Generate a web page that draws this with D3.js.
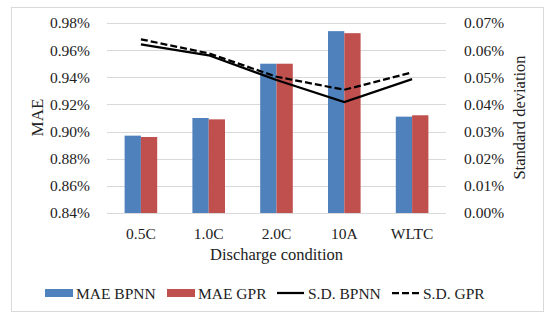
<!DOCTYPE html>
<html>
<head>
<meta charset="utf-8">
<script src="https://cdn.jsdelivr.net/npm/d3@7"></script>
<style>
  body { margin: 0; background: #fff; }
  svg { display: block; font-family: "Liberation Serif", "Times New Roman", serif; }
</style>
</head>
<body>
<script>
// chart data
let categories = ["0.5C", "1.0C", "2.0C", "10A", "WLTC"]
let maeBPNN = [0.897, 0.910, 0.950, 0.974, 0.911]
let maeGPR = [0.896, 0.909, 0.950, 0.9725, 0.912]
let sdBPNN = [0.0621, 0.0581, 0.0490, 0.0409, 0.0493]
let sdGPR = [0.0640, 0.0588, 0.0502, 0.0454, 0.0518]
let leftTicks = [0.84, 0.86, 0.88, 0.90, 0.92, 0.94, 0.96, 0.98]
let rightTicks = [0, 0.01, 0.02, 0.03, 0.04, 0.05, 0.06, 0.07]

let W = 550, H = 322
let m = {left: 107, right: 104, top: 23, bottom: 110}
let serif = '"Liberation Serif", "Times New Roman", serif'

let svg = d3.select('body')
    .append('svg')
    .attr('width', W)
    .attr('height', H)

// outer frame
svg.append('rect')
    .attr('x', 11.5)
    .attr('y', 7.5)
    .attr('width', 532)
    .attr('height', 304)
    .style('fill', 'white')
    .style('stroke', '#d9d9d9')

let x = d3.scaleBand()
    .domain(categories)
    .range([m.left, W - m.right])
let x1 = d3.scaleBand()
    .domain([0, 1])
    .range([0, 32.6])
let yL = d3.scaleLinear()
    .domain([0.84, 0.98])
    .range([H - m.bottom + 1, m.top])
let yR = d3.scaleLinear()
    .domain([0, 0.07])
    .range([H - m.bottom + 1, m.top])

// gridlines
svg.append('g')
    .selectAll('line')
    .data(leftTicks)
    .join('line')
    .attr('x1', m.left)
    .attr('x2', W - m.right)
    .attr('y1', d => Math.round(yL(d)) + 0.5)
    .attr('y2', d => Math.round(yL(d)) + 0.5)
    .style('stroke', '#d9d9d9')
    .style('stroke-width', 1)

// left axis
let axL = svg.append('g')
    .attr('transform', `translate(${m.left - 14},0)`)
    .call(d3.axisLeft(yL).tickValues(leftTicks).tickSize(0).tickFormat(d => d.toFixed(2) + '%'))
axL.attr('font-family', null).attr('font-size', null)
axL.select('.domain').remove()
axL.selectAll('text')
    .style('font-size', '15.5px')
    .style('font-family', serif)
    .style('fill', '#222')

// right axis
let axR = svg.append('g')
    .attr('transform', `translate(${W - m.right + 15},0)`)
    .call(d3.axisRight(yR).tickValues(rightTicks).tickSize(0).tickFormat(d => d.toFixed(2) + '%'))
axR.attr('font-family', null).attr('font-size', null)
axR.select('.domain').remove()
axR.selectAll('text')
    .style('font-size', '15.5px')
    .style('font-family', serif)
    .style('fill', '#222')

// bottom axis labels
let axB = svg.append('g')
    .attr('transform', `translate(0,${H - m.bottom + 13})`)
    .call(d3.axisBottom(x).tickSize(0))
axB.attr('font-family', null).attr('font-size', null)
axB.select('.domain').remove()
axB.selectAll('text')
    .style('font-size', '15.5px')
    .style('font-family', serif)
    .style('fill', '#222')

// bars
let series = [maeBPNN, maeGPR]
let colors = ['#4f81bd', '#c0504d']
series.forEach((s, i) => {
  svg.append('g')
    .selectAll('rect')
    .data(s)
    .join('rect')
    .attr('x', (d, j) => x(categories[j]) + (x.bandwidth() - 32.6) / 2 + x1(i))
    .attr('y', d => yL(d))
    .attr('width', x1.bandwidth())
    .attr('height', d => yL(0.84) - yL(d))
    .style('fill', colors[i])
})

// lines
let line = d3.line()
    .x((d, j) => x(categories[j]) + x.bandwidth() / 2)
    .y(d => yR(d))
svg.append('path')
    .datum(sdBPNN)
    .attr('d', line)
    .style('fill', 'none')
    .style('stroke', 'black')
    .style('stroke-width', 2.25)
svg.append('path')
    .datum(sdGPR)
    .attr('d', line)
    .style('fill', 'none')
    .style('stroke', 'black')
    .style('stroke-width', 2.25)
    .style('stroke-dasharray', '7,3')

// axis titles
svg.append('text')
    .attr('transform', 'translate(43,117.5) rotate(-90)')
    .attr('text-anchor', 'middle')
    .style('font-size', '17px')
    .style('fill', '#222')
    .text('MAE')
svg.append('text')
    .attr('transform', 'translate(525,117.5) rotate(-90)')
    .attr('text-anchor', 'middle')
    .style('font-size', '16.5px')
    .style('fill', '#222')
    .text('Standard deviation')
svg.append('text')
    .attr('x', (m.left + W - m.right) / 2)
    .attr('y', 260)
    .attr('text-anchor', 'middle')
    .style('font-size', '16.5px')
    .style('fill', '#222')
    .text('Discharge condition')

// legend
let legend = [
  {name: 'MAE BPNN', type: 'rect', color: colors[0], x: 45},
  {name: 'MAE GPR', type: 'rect', color: colors[1], x: 167},
  {name: 'S.D. BPNN', type: 'line', dash: null, x: 277},
  {name: 'S.D. GPR', type: 'line', dash: '7,3', x: 392}
]
let ly = 293
legend.forEach(l => {
  if (l.type === 'rect') {
    svg.append('rect')
      .attr('x', l.x)
      .attr('y', ly - 4)
      .attr('width', 28)
      .attr('height', 8)
      .style('fill', l.color)
  } else {
    svg.append('line')
      .attr('x1', l.x)
      .attr('x2', l.x + 27)
      .attr('y1', ly)
      .attr('y2', ly)
      .style('stroke', 'black')
      .style('stroke-width', 2.25)
      .style('stroke-dasharray', l.dash)
  }
  svg.append('text')
    .attr('x', l.x + 31)
    .attr('y', ly + 5.5)
    .style('font-size', '15.5px')
    .style('fill', '#222')
    .text(l.name)
})
</script>
</body>
</html>
